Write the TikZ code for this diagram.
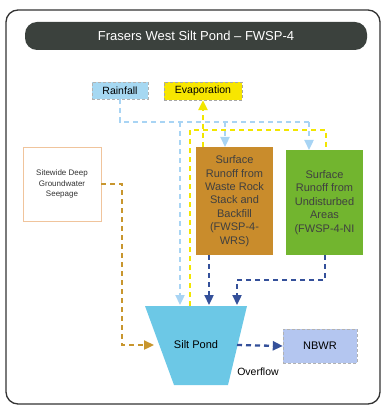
\documentclass[tikz,border=0pt]{standalone}
\usepackage{fontspec}
\setmainfont{Liberation Sans}
\usetikzlibrary{arrows.meta}
\definecolor{titlebg}{HTML}{3B413D}
\definecolor{rainc}{HTML}{A6D8F2}
\definecolor{evapc}{HTML}{F7E600}
\definecolor{wrsc}{HTML}{C98C2C}
\definecolor{nic}{HTML}{72B52F}
\definecolor{seepc}{HTML}{F0C49C}
\definecolor{pondc}{HTML}{6CC8E6}
\definecolor{nbwrc}{HTML}{B4C6F0}
\definecolor{dblue}{HTML}{34509A}
\definecolor{tanc}{HTML}{C8962E}
\definecolor{lblue}{HTML}{A8D4F4}
\definecolor{yel}{HTML}{F2E600}
\tikzset{
  flow/.style={line width=2.3pt, dash pattern=on 5pt off 4pt},
  tip/.style={-{Triangle[width=9pt,length=10pt]}},
  box/.style={draw, inner sep=0pt, align=center},
}
\begin{document}
\begin{tikzpicture}[x=1pt,y=-1pt]
\useasboundingbox (0,0) rectangle (382,406);
% frame
\draw[line width=1.3pt, color=black!80, rounded corners=12pt] (6,10) rectangle (380,404);
\node[fill=titlebg, rounded corners=12pt, minimum width=342pt, minimum height=28pt, text=white, font=\fontsize{13}{15}\selectfont] (title) at (196,36) {Frasers West Silt Pond -- FWSP-4};
% boxes
\node[box, draw=gray!60, densely dashed, thin, fill=rainc, minimum width=56pt, minimum height=17pt, font=\fontsize{10.5}{12}\selectfont] (rain) at (120,90.5) {Rainfall};
\node[box, draw=gray!70, densely dashed, thin, fill=evapc, minimum width=78pt, minimum height=18pt, font=\fontsize{10.5}{12}\selectfont] (evap) at (203,91) {Evaporation};
\node[box, draw=none, fill=wrsc, minimum width=77pt, minimum height=108pt, text=black!75, font=\fontsize{11}{13.4}\selectfont] (wrs) at (234.5,201) {Surface\\Runoff from\\Waste Rock\\Stack and\\Backfill\\(FWSP-4-\\WRS)};
\node[box, draw=none, fill=nic, minimum width=77pt, minimum height=105pt, text=black!75, font=\fontsize{11}{13.4}\selectfont] (ni) at (324.5,202.5) {Surface\\Runoff from\\Undisturbed\\Areas\\(FWSP-4-NI};
\node[box, draw=seepc, line width=0.8pt, fill=white, minimum width=78pt, minimum height=74pt, text=black!80, font=\fontsize{8}{10.5}\selectfont] (seep) at (62,184) {Sitewide Deep\\Groundwater\\Seepage};
\node[box, draw=gray!60, densely dashed, thin, fill=nbwrc, minimum width=74pt, minimum height=34pt, font=\fontsize{11}{13}\selectfont] (nbwr) at (320,346) {NBWR};
% silt pond
\coordinate (ptl) at (145,306);
\coordinate (ptr) at (247,306);
\coordinate (pbr) at (228,385);
\coordinate (pbl) at (174,385);
\fill[pondc] (ptl) -- (ptr) -- (pbr) -- (pbl) -- cycle;
\node[font=\fontsize{11}{13}\selectfont] (pond) at (196,345) {Silt Pond};
\node[font=\fontsize{10.5}{12}\selectfont] (ovf) at (258,372) {Overflow};
% coordinates
\coordinate (b0) at (120,122);
\coordinate (b1) at (310,122);
\coordinate (b2) at (180,122);
\coordinate (b2e) at (180,305);
\coordinate (b3) at (225,122);
\coordinate (b3e) at (225,147);
\coordinate (b4) at (309,122);
\coordinate (b4e) at (309,150);
\coordinate (y0) at (190,130);
\coordinate (y1) at (326,130);
\coordinate (y1e) at (326,150);
\coordinate (y0e) at (190,306);
\coordinate (y2) at (203,147);
\coordinate (d1) at (209,255);
\coordinate (d1e) at (209,305);
\coordinate (d2) at (325,255);
\coordinate (d2a) at (325,280);
\coordinate (d2b) at (237,280);
\coordinate (d2e) at (237,305);
\coordinate (t1) at (122,184);
\coordinate (t2) at (122,345);
\coordinate (t2e) at (154,345);
\coordinate (o1) at (237,345);
% light blue
\draw[flow, lblue] (rain.south) -- (b0) -- (b1);
\draw[flow, lblue, tip] (b2) -- (b2e);
\draw[flow, lblue, tip] (b3) -- (b3e);
\draw[flow, lblue, tip] (b4) -- (b4e);
% yellow
\draw[flow, yel] (y0e) -- (y0) -- (y1) -- (y1e);
\draw[flow, yel, tip] (y2) -- (evap.south);
% dark blue
\draw[flow, dblue, tip] (d1) -- (d1e);
\draw[flow, dblue, tip] (d2) -- (d2a) -- (d2b) -- (d2e);
\draw[flow, dblue, tip] (o1) -- (nbwr.west);
% tan
\draw[flow, tanc, tip] (seep.east) -- (t1) -- (t2) -- (t2e);
\end{tikzpicture}
\end{document}
